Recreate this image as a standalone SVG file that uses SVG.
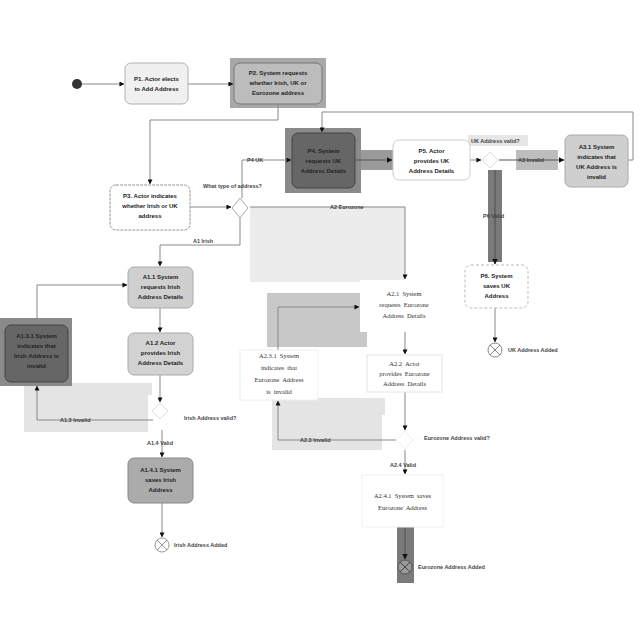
<svg xmlns="http://www.w3.org/2000/svg" width="640" height="640" viewBox="0 0 640 640">
<style>
.bg{fill:#ffffff}
.n{font-family:"Liberation Sans",Arial,sans-serif;font-size:6px;font-weight:bold;fill:#222;text-anchor:middle}
.s{font-family:"Liberation Serif","Times New Roman",serif;font-size:6.5px;fill:#333;text-anchor:middle;word-spacing:1.5px}
.lb{font-family:"Liberation Sans",Arial,sans-serif;font-size:5.5px;font-weight:bold;fill:#444}
.c{fill:none;stroke:#888;stroke-width:1}
.cd{fill:none;stroke:#555;stroke-width:1.2}
.sh1{fill:#ececec}
.sh2{fill:#c8c8c8}
.sh3{fill:#e4e4e4}
</style>
<defs>
<marker id="ah" viewBox="0 0 6 6" refX="5.5" refY="3" markerWidth="5" markerHeight="5" orient="auto">
<path d="M0,0 L6,3 L0,6 Z" fill="#111"/>
</marker>
</defs>
<rect class="bg" x="0" y="0" width="640" height="640"/>
<g id="shading">
<rect class="sh1" x="250" y="207" width="155" height="75"/>
<rect class="sh2" x="267" y="293" width="100" height="54"/>
<rect class="sh3" x="24" y="383" width="128" height="49"/>
<rect class="sh3" x="272" y="398" width="113" height="52"/>
<rect x="360" y="150" width="34" height="20" fill="#9a9a9a"/>
<rect x="516" y="150" width="42" height="20" fill="#bdbdbd"/>
<rect x="488" y="170" width="14" height="92" fill="#7a7a7a"/>
<rect x="397" y="527" width="17" height="56" fill="#7a7a7a"/>
<rect x="468" y="135" width="60" height="11" fill="#e6e6e6"/>
<rect x="230" y="58" width="96" height="50" fill="#a8a8a8"/>
<rect x="285" y="128" width="76" height="65" fill="#8a8a8a"/>
<rect x="0" y="318" width="72" height="68" fill="#8a8a8a"/>
<rect x="148" y="395" width="38" height="50" fill="#ffffff"/>
<rect x="382" y="415" width="58" height="55" fill="#ffffff"/>
</g>
<g id="connectors">
<path class="c" d="M82,84 L124,84" marker-end="url(#ah)"/>
<path class="c" d="M188,84 L233,84" marker-end="url(#ah)"/>
<path class="c" d="M278,104 L278,120 L150,120 L150,184" marker-end="url(#ah)"/>
<path class="c" d="M190,207 L231,207" marker-end="url(#ah)"/>
<path class="c" d="M242,198 L242,160 L291,160" marker-end="url(#ah)"/>
<path class="c" d="M250,207 L405,207 L405,279" marker-end="url(#ah)"/>
<path class="c" d="M240,218 L240,245 L160,245 L160,266" marker-end="url(#ah)"/>
<path class="cd" d="M355,160 L392,160" marker-end="url(#ah)"/>
<path class="c" d="M470,160 L481,160" marker-end="url(#ah)"/>
<path class="cd" d="M499,160 L564,160" marker-end="url(#ah)"/>
<path class="c" d="M628,160 L633,160 L633,112 L322,112 L322,132" marker-end="url(#ah)"/>
<path class="cd" d="M495,170 L495,264" marker-end="url(#ah)"/>
<path class="c" d="M495,308 L495,342" marker-end="url(#ah)"/>
<path class="c" d="M160,308 L160,332" marker-end="url(#ah)"/>
<path class="c" d="M160,375 L160,402" marker-end="url(#ah)"/>
<path class="c" d="M153,420 L37,420 L37,386" marker-end="url(#ah)"/>
<path class="c" d="M37,325 L37,285 L127,285" marker-end="url(#ah)"/>
<path class="c" d="M162,430 L162,457" marker-end="url(#ah)"/>
<path class="c" d="M162,503 L162,537" marker-end="url(#ah)"/>
<path class="c" d="M405,332 L405,354" marker-end="url(#ah)"/>
<path class="c" d="M405,392 L405,430" marker-end="url(#ah)"/>
<path class="c" d="M396,440 L278,440 L278,401" marker-end="url(#ah)"/>
<path class="c" d="M278,350 L278,307 L359,307" marker-end="url(#ah)"/>
<path class="c" d="M405,450 L405,474" marker-end="url(#ah)"/>
<path class="cd" d="M405,527 L405,559" marker-end="url(#ah)"/>
</g>
<g id="labels">
<text class="lb" x="247" y="162">P4 UK</text>
<text class="lb" x="203" y="188">What type of address?</text>
<text class="lb" x="330" y="209">A2 Eurozone</text>
<text class="lb" x="193" y="243">A1 Irish</text>
<text class="lb" x="471" y="143">UK Address valid?</text>
<text class="lb" x="518" y="162">A3 Invalid</text>
<text class="lb" x="483" y="218">P6 Valid</text>
<text class="lb" x="184" y="420">Irish Address valid?</text>
<text class="lb" x="60" y="422">A1.3 Invalid</text>
<text class="lb" x="147" y="445">A1.4 Valid</text>
<text class="lb" x="424" y="440">Eurozone Address valid?</text>
<text class="lb" x="300" y="442">A2.3 Invalid</text>
<text class="lb" x="390" y="467">A2.4 Valid</text>
</g>
<g id="start"><circle cx="77" cy="84" r="5" fill="#333"/></g>
<g id="P1"><rect x="125" y="63" width="63" height="41" rx="6" fill="#f0f0f0" stroke="#b0b0b0"/>
<text class="n" x="156.5" y="81">P1. Actor elects</text><text class="n" x="156.5" y="91">to Add Address</text></g>
<g id="P2"><rect x="234" y="63" width="88" height="41" rx="6" fill="#bcbcbc" stroke="#777"/>
<text class="n" x="278" y="75">P2. System requests</text><text class="n" x="278" y="85">whether Irish, UK or</text><text class="n" x="278" y="95">Eurozone address</text></g>
<g id="P3"><rect x="110" y="185" width="80" height="45" rx="6" fill="#fff" stroke="#999" stroke-dasharray="3 1"/>
<text class="n" x="150" y="198">P3. Actor indicates</text><text class="n" x="150" y="208">whether Irish or UK</text><text class="n" x="150" y="218">address</text></g>
<g id="D1"><path d="M240,198 L248,208 L240,218 L232,208 Z" fill="#fff" stroke="#aaa"/></g>
<g id="P4"><rect x="292" y="133" width="63" height="55" rx="6" fill="#666" stroke="#444"/>
<text class="n" x="323.5" y="153">P4. System</text><text class="n" x="323.5" y="163">requests UK</text><text class="n" x="323.5" y="173">Address Details</text></g>
<g id="P5"><rect x="393" y="140" width="77" height="40" rx="6" fill="#fff" stroke="#ccc"/>
<text class="n" x="431.5" y="153">P5. Actor</text><text class="n" x="431.5" y="163">provides UK</text><text class="n" x="431.5" y="173">Address Details</text></g>
<g id="D2"><path d="M490,152 L498,160 L490,168 L482,160 Z" fill="#fff" stroke="#ddd"/></g>
<g id="A3_1"><rect x="565" y="135" width="63" height="52" rx="6" fill="#cfcfcf" stroke="#aaa"/>
<text class="n" x="596.5" y="149">A3.1 System</text><text class="n" x="596.5" y="159">indicates that</text><text class="n" x="596.5" y="169">UK Address is</text><text class="n" x="596.5" y="179">invalid</text></g>
<g id="P6"><rect x="465" y="265" width="63" height="43" rx="6" fill="#fff" stroke="#bbb" stroke-dasharray="3 2"/>
<text class="n" x="496.5" y="278">P6. System</text><text class="n" x="496.5" y="288">saves UK</text><text class="n" x="496.5" y="298">Address</text></g>
<g id="F_UK"><circle cx="495" cy="350" r="7" fill="#fff" stroke="#888"/><path d="M490,345 L500,355 M500,345 L490,355" stroke="#888"/>
<text class="lb" x="508" y="352">UK Address Added</text></g>
<g id="A1_1"><rect x="128" y="267" width="65" height="41" rx="6" fill="#cfcfcf" stroke="#aaa"/>
<text class="n" x="160.5" y="279">A1.1 System</text><text class="n" x="160.5" y="289">requests Irish</text><text class="n" x="160.5" y="299">Address Details</text></g>
<g id="A1_2"><rect x="128" y="333" width="65" height="42" rx="6" fill="#d2d2d2" stroke="#aaa"/>
<text class="n" x="160.5" y="345">A1.2 Actor</text><text class="n" x="160.5" y="355">provides Irish</text><text class="n" x="160.5" y="365">Address Details</text></g>
<g id="D3"><path d="M160,403 L168,411 L160,419 L152,411 Z" fill="#fff" stroke="#ddd"/></g>
<g id="A1_3_1"><rect x="5" y="325" width="63" height="57" rx="6" fill="#666" stroke="#444"/>
<text class="n" x="36.5" y="338">A1.3.1 System</text><text class="n" x="36.5" y="348">indicates that</text><text class="n" x="36.5" y="358">Irish Address is</text><text class="n" x="36.5" y="368">invalid</text></g>
<g id="A1_4_1"><rect x="128" y="458" width="65" height="45" rx="6" fill="#ababab" stroke="#888"/>
<text class="n" x="160.5" y="472">A1.4.1 System</text><text class="n" x="160.5" y="482">saves Irish</text><text class="n" x="160.5" y="492">Address</text></g>
<g id="F_Irish"><circle cx="162" cy="545" r="7" fill="#fff" stroke="#999"/><path d="M157,540 L167,550 M167,540 L157,550" stroke="#999"/>
<text class="lb" x="174" y="547">Irish Address Added</text></g>
<g id="A2_1"><rect x="360" y="280" width="88" height="52" fill="#fff"/>
<text class="s" x="404" y="296">A2.1 System</text><text class="s" x="404" y="307">requests Eurozone</text><text class="s" x="404" y="318">Address Details</text></g>
<g id="A2_2"><rect x="367" y="355" width="75" height="37" fill="#fff" stroke="#e4e4e4"/>
<text class="s" x="404.5" y="366">A2.2 Actor</text><text class="s" x="404.5" y="376">provides Eurozone</text><text class="s" x="404.5" y="386">Address Details</text></g>
<g id="D4"><path d="M405,431 L413,440 L405,449 L397,440 Z" fill="#fff" stroke="#eee"/></g>
<g id="A2_3_1"><rect x="240" y="350" width="78" height="50" fill="#fff" stroke="#eee"/>
<text class="s" x="279" y="358">A2.3.1 System</text><text class="s" x="279" y="370">indicates that</text><text class="s" x="279" y="382">Eurozone Address</text><text class="s" x="279" y="394">is invalid</text></g>
<g id="A2_4_1"><rect x="362" y="475" width="81" height="52" fill="#fff" stroke="#f0f0f0"/>
<text class="s" x="402.5" y="498">A2.4.1 System saves</text><text class="s" x="402.5" y="510">Eurozone Address</text></g>
<g id="F_Euro"><circle cx="405" cy="567" r="7" fill="#999" stroke="#555"/><path d="M400,562 L410,572 M410,562 L400,572" stroke="#444"/>
<text class="lb" x="418" y="569">Eurozone Address Added</text></g>
</svg>
